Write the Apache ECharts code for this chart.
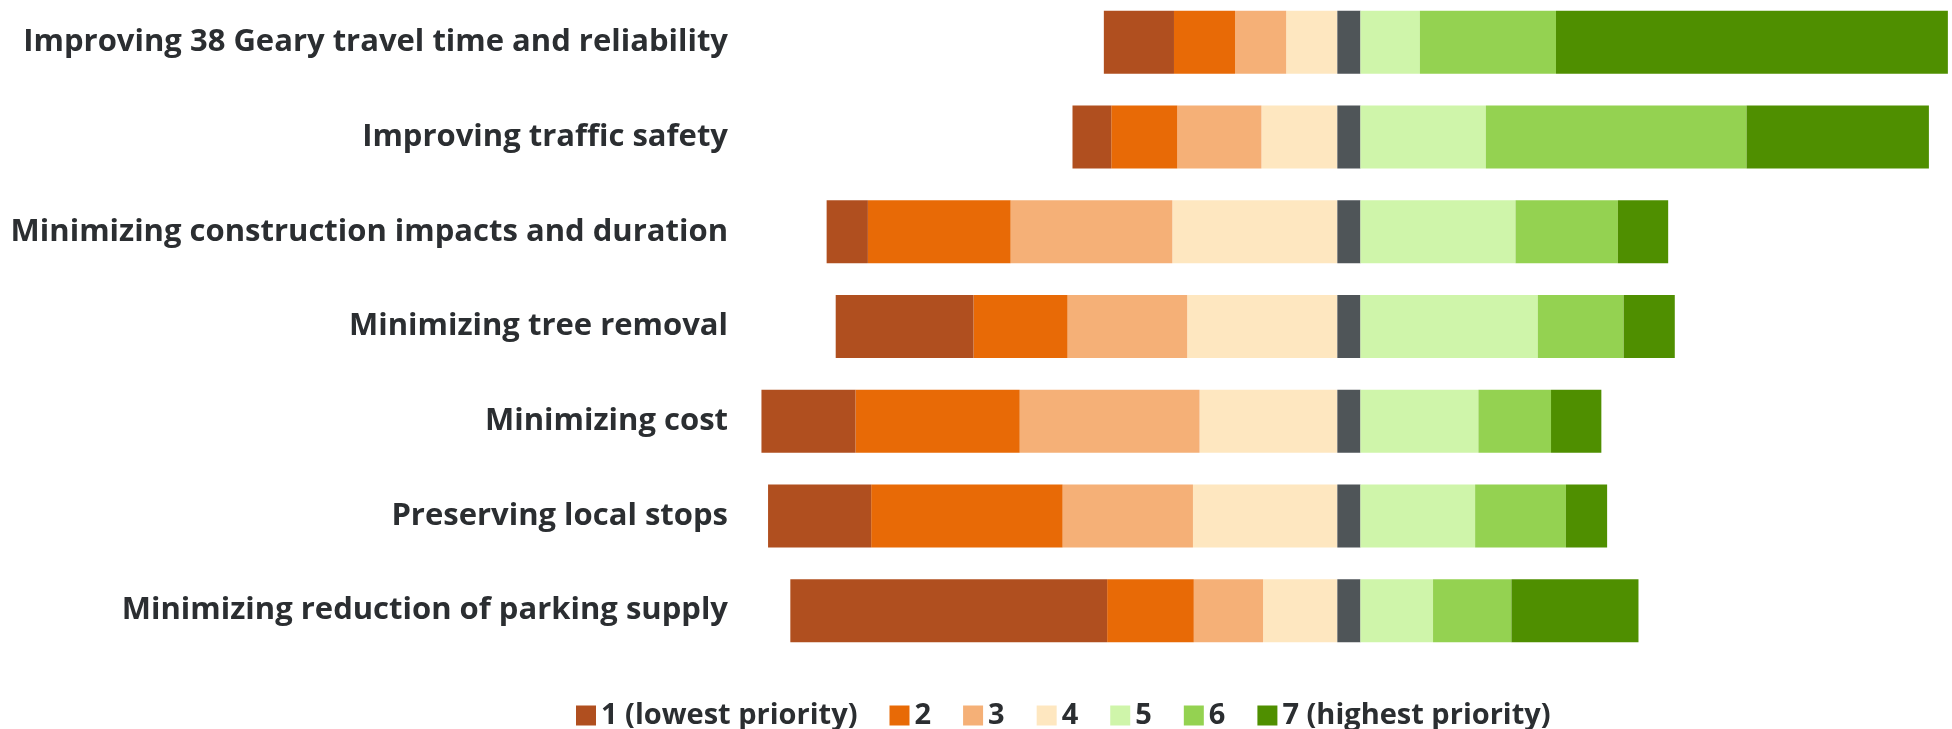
<!DOCTYPE html>
<html>
<head>
<meta charset="utf-8">
<script src="https://cdn.jsdelivr.net/npm/echarts@6/dist/echarts.min.js"></script>
<style>
html,body{margin:0;padding:0;background:#fff;}
#chart{width:1952px;height:729px;}
</style>
</head>
<body>
<div id="chart"></div>
<script>
const categories = [
  'Improving 38 Geary travel time and reliability',
  'Improving traffic safety',
  'Minimizing construction impacts and duration',
  'Minimizing tree removal',
  'Minimizing cost',
  'Preserving local stops',
  'Minimizing reduction of parking supply'
];
const seriesNames = ['1 (lowest priority)', '2', '3', '4', '5', '6', '7 (highest priority)'];
// share of responses (%) per priority level
const p1 = [8.5, 4.7, 5.0, 16.7, 11.4, 12.5, 38.4];
const p2 = [7.4, 8.0, 17.3, 11.4, 19.9, 23.2, 10.5];
const p3 = [6.2, 10.2, 19.6, 14.5, 21.8, 15.8, 8.4];
const p4 = [6.2, 9.2, 20.0, 18.2, 16.7, 17.5, 9.0];
const p5 = [7.2, 15.2, 18.8, 21.5, 14.3, 13.9, 8.8];
const p6 = [16.5, 31.6, 12.4, 10.4, 8.8, 11.0, 9.5];
const p7 = [47.5, 22.1, 6.1, 6.2, 6.1, 5.0, 15.4];
// neutral centre divider
const centre = [2.8, 2.8, 2.8, 2.8, 2.8, 2.8, 2.8];

const colors = ['#B04F1F', '#E86A06', '#F5B077', '#FEE7C0', '#CFF5AA', '#94D251', '#4F8F00'];
const neutralColor = '#4F5558';
const textColor = '#2B2E31';

const neg = arr => arr.map(v => -v);

function bar(name, data, color) {
  return {
    name: name, type: 'bar', stack: 'total', data: data,
    barWidth: 63, itemStyle: { color: color }, emphasis: { disabled: true },
    silent: true
  };
}

const series = [
  bar(seriesNames[3], neg(p4), colors[3]),
  bar(seriesNames[2], neg(p3), colors[2]),
  bar(seriesNames[1], neg(p2), colors[1]),
  bar(seriesNames[0], neg(p1), colors[0]),
  bar('neutral', centre, neutralColor),
  bar(seriesNames[4], p5, colors[4]),
  bar(seriesNames[5], p6, colors[5]),
  bar(seriesNames[6], p7, colors[6])
];

const chart = echarts.init(document.getElementById('chart'), null, { renderer: 'canvas' });
chart.setOption({
  animation: false,
  textStyle: { fontFamily: 'Open Sans' },
  grid: { left: 740, right: 0, top: -5, bottom: 71, containLabel: false, outerBoundsMode: 'none' },
  legend: {
    data: seriesNames,
    left: 571, top: 696,
    itemWidth: 20, itemHeight: 20, itemGap: 32,
    icon: 'rect',
    textStyle: { fontSize: 29, fontWeight: 'bold', color: textColor, fontFamily: 'Open Sans' },
    selectedMode: false
  },
  xAxis: {
    type: 'value', min: -72.4, max: 74.5,
    show: false
  },
  yAxis: {
    type: 'category', data: categories, inverse: true,
    axisLine: { show: false }, axisTick: { show: false },
    axisLabel: { fontSize: 31, fontWeight: 'bold', color: textColor, margin: 12, fontFamily: 'Open Sans' }
  },
  series: series
});
</script>
</body>
</html>
